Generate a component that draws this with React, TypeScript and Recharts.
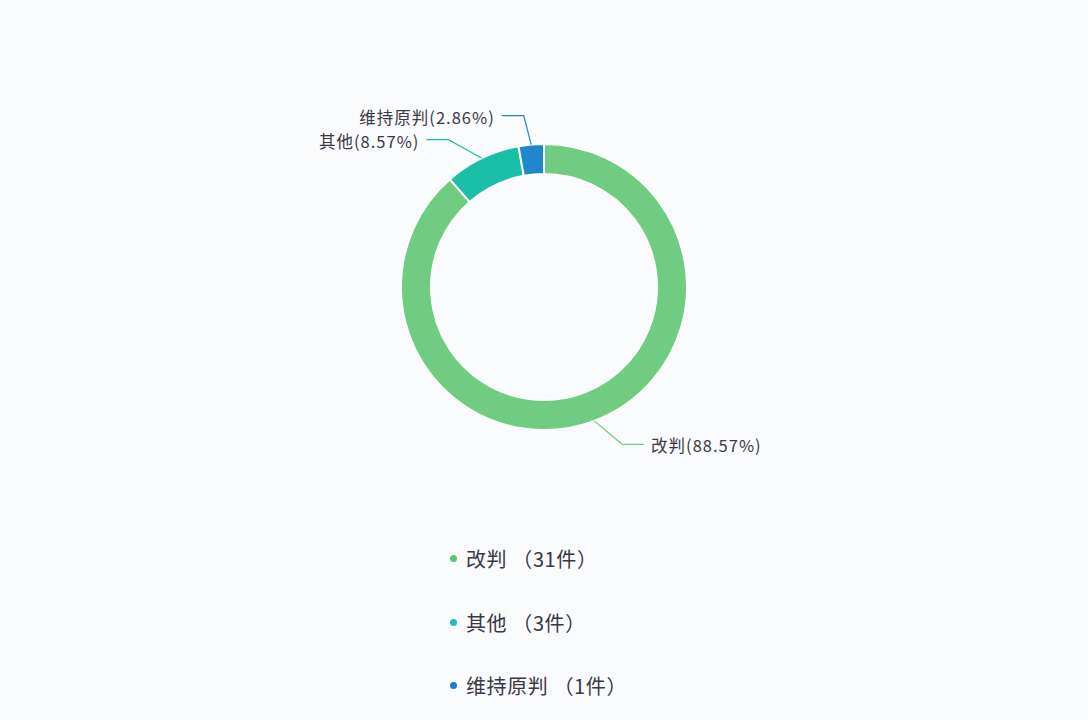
import React from "react";
import { PieChart, Pie, Cell, Legend } from "recharts";

const names = ["改判", "其他", "维持原判"];
const counts = [31, 3, 1];
const percents = ["88.57%", "8.57%", "2.86%"];
const colors = ["#6fcc80", "#1bbfa8", "#1e87cd"];
const dotColors = ["#5cc27a", "#25b9c6", "#1a7fd6"];

const data = names.map((name, i) => ({ name, value: counts[i], pct: percents[i] }));

const RAD = Math.PI / 180;
const LINE1 = 25;
const LINE2 = 22;
const MIN_GAP = 24;

// where the label of a slice sits, before overlap fixing
function rawLabel(cx: number, cy: number, r: number, midAngle: number) {
  const cos = Math.cos(-midAngle * RAD);
  const sin = Math.sin(-midAngle * RAD);
  const dir = cos >= 0 ? 1 : -1;
  return {
    cos,
    sin,
    dir,
    ex: cx + (r + LINE1) * cos + dir * 58 * Math.abs(cos * sin),
    ey: cy + (r + LINE1) * sin,
  };
}

function OuterLabel(props: any) {
  const { cx, cy, midAngle, outerRadius, index, startAngle, endAngle } = props;
  const p = rawLabel(cx, cy, outerRadius, midAngle);
  // push labels on the same side apart a little so the text doesn't collide
  const total = counts.reduce((a, b) => a + b, 0);
  const sweep = (endAngle - startAngle) / (counts[index] / total);
  let acc = 90;
  let shift = 0;
  counts.forEach((c, j) => {
    const mid = acc + (sweep * c) / total / 2;
    acc += (sweep * c) / total;
    if (j === index) return;
    const q = rawLabel(cx, cy, outerRadius, mid);
    if (q.dir !== p.dir) return;
    const gap = p.ey - q.ey;
    if (Math.abs(gap) < MIN_GAP) shift += ((gap >= 0 ? 1 : -1) * (MIN_GAP - Math.abs(gap))) / 2;
  });
  const sx = cx + outerRadius * p.cos;
  const sy = cy + outerRadius * p.sin;
  const ey = p.ey + shift;
  const hx = p.ex + p.dir * LINE2;
  const d = data[index];
  return (
    <g>
      <path d={`M${sx},${sy}L${p.ex},${ey}L${hx},${ey}`} stroke={colors[index]} fill="none" strokeWidth={1.2} />
      <text
        x={hx + p.dir * 7}
        y={ey + 1}
        textAnchor={p.dir > 0 ? "start" : "end"}
        dominantBaseline="central"
        fill="#3b3745"
        fontSize={16.5}
        letterSpacing={1}
        fontFamily="'Noto Sans CJK SC', 'Noto Sans', sans-serif"
      >
        {`${d.name}(${d.pct})`}
      </text>
    </g>
  );
}

function LegendList({ payload }: any) {
  return (
    <div style={{ display: "flex", flexDirection: "column", alignItems: "flex-start", marginLeft: 450 }}>
      {(payload || []).map((p: any, i: number) => (
        <div key={i} style={{ display: "flex", alignItems: "center", height: 63.5 }}>
          <span
            style={{
              display: "inline-block",
              width: 7,
              height: 7,
              borderRadius: "50%",
              background: dotColors[i],
              marginRight: 9,
            }}
          />
          <span
            style={{
              fontSize: 20,
              letterSpacing: 0.6,
              color: "#3b3745",
              fontFamily: "'Noto Sans CJK SC', sans-serif",
            }}
          >
            {`${names[i]} （${counts[i]}件）`}
          </span>
        </div>
      ))}
    </div>
  );
}

export default function App() {
  return (
    <div style={{ position: "absolute", left: 0, top: 0, width: 1088, height: 720, background: "#fafbfd" }}>
      <PieChart width={1088} height={720} margin={{ top: 0, right: 0, bottom: 0, left: 0 }}>
        <Pie
          data={data}
          dataKey="value"
          nameKey="name"
          cx={544}
          cy={287}
          innerRadius={113}
          outerRadius={143}
          startAngle={90}
          endAngle={-270}
          stroke="#ffffff"
          strokeWidth={2}
          label={OuterLabel}
          labelLine={false}
          isAnimationActive={false}
        >
          {data.map((d, i) => (
            <Cell key={d.name} fill={colors[i]} />
          ))}
        </Pie>
        <Legend content={<LegendList />} wrapperStyle={{ left: 0, top: 527, width: 1088 }} />
      </PieChart>
    </div>
  );
}
